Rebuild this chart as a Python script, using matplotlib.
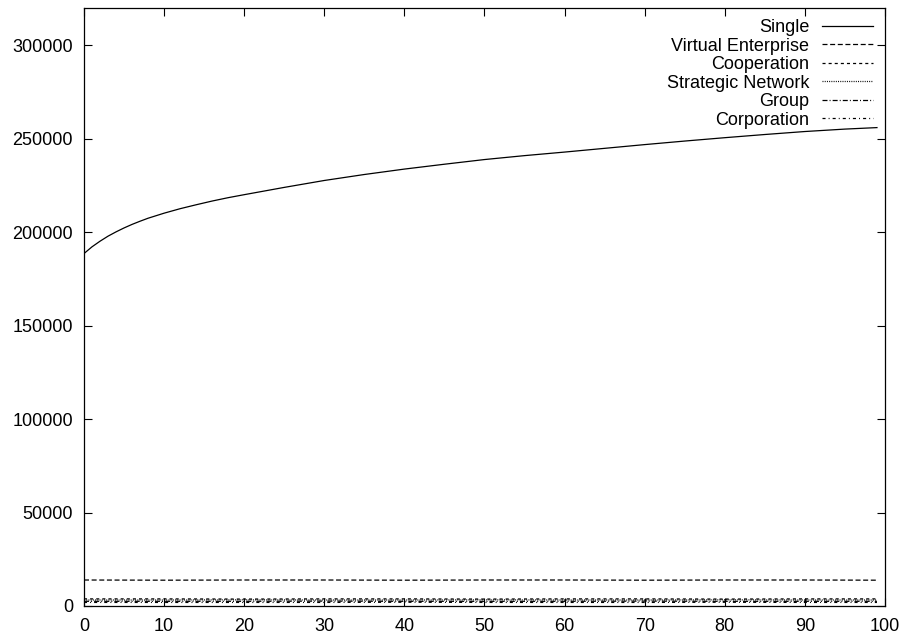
import matplotlib
matplotlib.use("Agg")
import matplotlib.pyplot as plt

plt.rcParams['font.family'] = ['Liberation Sans', 'DejaVu Sans']
plt.rcParams['lines.scale_dashes'] = False

# total size per step, single firm vs. network forms
x_single = [0, 1, 2, 3, 4, 5, 6, 7, 8, 10, 12, 14, 16, 18, 20, 25, 30, 35,
            40, 45, 50, 55, 60, 65, 70, 75, 80, 85, 90, 95, 99]
single = [188600, 192200, 195200, 197900, 200200, 202300, 204200, 205900,
          207500, 210200, 212600, 214700, 216700, 218500, 220100, 224000,
          227700, 230900, 233800, 236400, 238900, 241000, 242900, 244900,
          246900, 248800, 250600, 252300, 253900, 255200, 256000]

x_net = [0, 10, 20, 30, 40, 50, 60, 70, 80, 90, 99]
virtual_enterprise = [13900, 13800, 13900, 13900, 13800, 13900, 13900, 13800, 13900, 13900, 13800]
cooperation = [3800, 3800, 3700, 3800, 3800, 3700, 3800, 3800, 3700, 3800, 3800]
strategic_network = [3200, 3200, 3300, 3200, 3200, 3300, 3200, 3200, 3300, 3200, 3200]
group = [2500, 2500, 2500, 2600, 2500, 2500, 2500, 2600, 2500, 2500, 2500]
corporation = [1900, 1900, 1900, 1900, 2000, 1900, 1900, 1900, 2000, 1900, 1900]

x_ticks = list(range(0, 101, 10))
y_ticks = list(range(0, 300001, 50000))

fig = plt.figure(figsize=(9.1, 6.35), dpi=100)
ax = fig.add_axes([0.0923, 0.0457, 0.8802, 0.9417])

lw = 0.9
ax.plot(x_single, single, color='black', lw=lw, linestyle='-', label='Single')
ax.plot(x_net, virtual_enterprise, color='black', lw=lw,
        linestyle=(0, (3.6, 1.9)), label='Virtual Enterprise')
ax.plot(x_net, cooperation, color='black', lw=lw,
        linestyle=(0, (2.2, 2.2)), label='Cooperation')
ax.plot(x_net, strategic_network, color='black', lw=lw,
        linestyle=(0, (0.7, 0.9)), label='Strategic Network')
ax.plot(x_net, group, color='black', lw=lw,
        linestyle=(0, (3.6, 1.5, 0.7, 1.5)), label='Group')
ax.plot(x_net, corporation, color='black', lw=lw,
        linestyle=(0, (2.2, 2.2, 0.7, 2.2)), label='Corporation')

ax.set_xlim(0, 100)
ax.set_ylim(0, 320000)
ax.set_xticks(x_ticks)
ax.set_yticks(y_ticks)
ax.tick_params(axis='both', direction='in', length=5.8, width=0.8,
               top=True, right=True, labelsize=13, colors='black')
ax.tick_params(axis='y', pad=8)
ax.tick_params(axis='x', pad=9)
for s in ax.spines.values():
    s.set_linewidth(0.9)
    s.set_color('black')

ax.legend(loc='upper right', bbox_to_anchor=(0.9846, 0.981), frameon=False,
          markerfirst=False, fontsize=13, handlelength=2.83,
          handletextpad=0.67, labelspacing=0.08, borderpad=0,
          borderaxespad=0)

fig.savefig('out.png', dpi=100, facecolor='white')
